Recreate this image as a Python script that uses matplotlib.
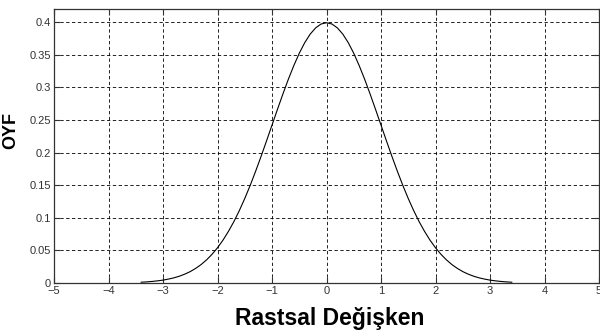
import matplotlib
matplotlib.use("Agg")
import matplotlib.pyplot as plt

# values (step 0.1)
x_vals = [-3.4, -3.3, -3.2, -3.1, -3.0, -2.9, -2.8, -2.7, -2.6, -2.5,
          -2.4, -2.3, -2.2, -2.1, -2.0, -1.9, -1.8, -1.7, -1.6, -1.5,
          -1.4, -1.3, -1.2, -1.1, -1.0, -0.9, -0.8, -0.7, -0.6, -0.5,
          -0.4, -0.3, -0.2, -0.1, 0.0, 0.1, 0.2, 0.3, 0.4, 0.5,
          0.6, 0.7, 0.8, 0.9, 1.0, 1.1, 1.2, 1.3, 1.4, 1.5,
          1.6, 1.7, 1.8, 1.9, 2.0, 2.1, 2.2, 2.3, 2.4, 2.5,
          2.6, 2.7, 2.8, 2.9, 3.0, 3.1, 3.2, 3.3, 3.4]
y_vals = [0.0012, 0.0017, 0.0024, 0.0033, 0.0044, 0.0060, 0.0079, 0.0104, 0.0136, 0.0175,
          0.0224, 0.0283, 0.0355, 0.0440, 0.0540, 0.0656, 0.0790, 0.0940, 0.1109, 0.1295,
          0.1497, 0.1714, 0.1942, 0.2179, 0.2420, 0.2661, 0.2897, 0.3123, 0.3332, 0.3521,
          0.3683, 0.3814, 0.3910, 0.3970, 0.3989, 0.3970, 0.3910, 0.3814, 0.3683, 0.3521,
          0.3332, 0.3123, 0.2897, 0.2661, 0.2420, 0.2179, 0.1942, 0.1714, 0.1497, 0.1295,
          0.1109, 0.0940, 0.0790, 0.0656, 0.0540, 0.0440, 0.0355, 0.0283, 0.0224, 0.0175,
          0.0136, 0.0104, 0.0079, 0.0060, 0.0044, 0.0033, 0.0024, 0.0017, 0.0012]

x_ticks = [-5, -4, -3, -2, -1, 0, 1, 2, 3, 4, 5]
y_ticks = [0, 0.05, 0.1, 0.15, 0.2, 0.25, 0.3, 0.35, 0.4]
y_ticklabels = ["0", "0.05", "0.1", "0.15", "0.2", "0.25", "0.3", "0.35", "0.4"]

plt.rcParams['font.family'] = ['Liberation Sans', 'DejaVu Sans']

fig = plt.figure(figsize=(6.0, 3.34), dpi=100)
ax = fig.add_axes([54 / 600, 1 - 283 / 334, 545 / 600, 274 / 334])

ax.plot(x_vals, y_vals, color='black', lw=0.8)

ax.set_xlim(-5, 5)
ax.set_ylim(0, 0.42)
ax.set_xticks(x_ticks)
ax.set_yticks(y_ticks)
ax.set_yticklabels(y_ticklabels)
ax.tick_params(direction='in', top=True, right=True, length=4, width=0.8,
               labelsize=8, colors='#333333', pad=2)
ax.grid(True, color='black', linestyle=(0, (4, 3)), lw=0.6)
for s in ax.spines.values():
    s.set_color('#333333')
    s.set_linewidth(0.9)

ax.set_xlabel('Rastsal Değişken', fontsize=16.5, fontweight='bold')
ax.xaxis.set_label_coords(0.506, -0.088)
ax.set_ylabel('OYF', fontsize=13, fontweight='bold')
ax.yaxis.set_label_coords(-0.064, 0.555)

fig.savefig('out.png', dpi=100)
